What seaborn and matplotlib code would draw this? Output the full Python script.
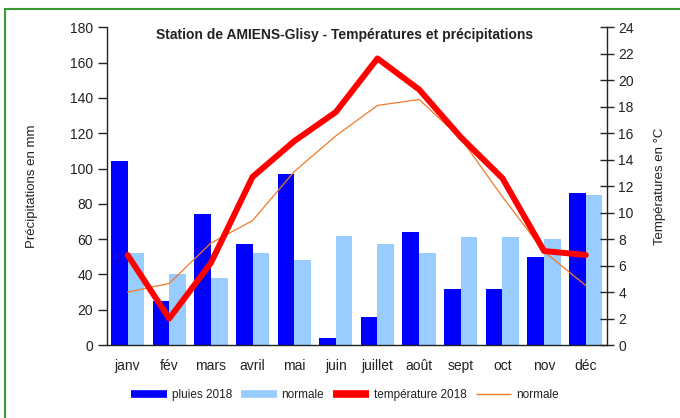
import numpy as np
import pandas as pd
import seaborn as sns
import matplotlib.pyplot as plt
from matplotlib.lines import Line2D
from matplotlib.patches import Rectangle

mois = ['janv', 'fév', 'mars', 'avril', 'mai', 'juin',
        'juillet', 'août', 'sept', 'oct', 'nov', 'déc']
pluies_2018 = [104, 25, 74, 57, 97, 4, 16, 64, 32, 32, 50, 86]
pluies_normale = [52, 40, 38, 52, 48, 62, 57.5, 52, 61, 61, 60, 85]
temp_2018 = [6.8, 2.0, 6.2, 12.7, 15.4, 17.6, 21.65, 19.3, 15.7, 12.6, 7.1, 6.8]
temp_normale = [4.0, 4.65, 7.7, 9.4, 13.1, 15.8, 18.1, 18.55, 15.6, 11.2, 7.05, 4.5]

df = pd.DataFrame({
    'mois': mois * 2,
    'mm': pluies_2018 + pluies_normale,
    'serie': ['pluies 2018'] * 12 + ['normale'] * 12,
})

sns.set_style('white')
plt.rcParams['font.family'] = ['Liberation Sans', 'DejaVu Sans']
txt = '#222222'

fig = plt.figure(figsize=(6.8, 4.18), dpi=100)
ax = fig.add_axes([0.157, 0.1746, 0.735, 0.760])

sns.barplot(data=df, x='mois', y='mm', hue='serie',
            palette=['#0000ff', '#99ccff'], saturation=1, width=0.8, gap=0,
            errorbar=None, legend=False, ax=ax, zorder=2)
for p in ax.patches:
    p.set_edgecolor('none')

ax.set_xlim(-0.5, 11.5)
ax.set_ylim(0, 180)
ax.set_yticks(range(0, 181, 20))
ax.set_xticks(range(12))
ax.set_xticklabels(mois)
ax.set_xticks(np.arange(-0.5, 12, 1), minor=True)
ax.tick_params(axis='x', which='major', length=0, pad=10, labelsize=10, labelcolor=txt)
ax.tick_params(axis='x', which='minor', length=7, width=1, direction='out', color='#222')
ax.tick_params(axis='y', length=6.5, width=1, direction='out', labelsize=10,
               labelcolor=txt, color='#222', left=True)
ax.set_xlabel('')
ax.set_ylabel('Précipitations en mm', fontsize=9.5, color=txt)
ax.yaxis.set_label_coords(-0.138, 0.5)
for s in ['top', 'right']:
    ax.spines[s].set_visible(False)
for s in ['left', 'bottom']:
    ax.spines[s].set_color('#222')
    ax.spines[s].set_linewidth(1)

ax2 = ax.twinx()
x = np.arange(12)
sns.lineplot(x=x, y=temp_normale, ax=ax2, color='#f07a28', lw=0.9)
sns.lineplot(x=x, y=temp_2018, ax=ax2, color='#ff0000', lw=4.3)
ax2.set_ylim(0, 24)
ax2.set_yticks(range(0, 25, 2))
ax2.set_xlim(-0.5, 11.5)
ax2.tick_params(axis='y', length=10, width=1, direction='inout', labelsize=10,
                labelcolor=txt, color='#222', right=True)
ax2.set_ylabel('Températures en °C', fontsize=9.5, color=txt)
ax2.yaxis.set_label_coords(1.095, 0.5)
for s in ['top', 'left', 'bottom']:
    ax2.spines[s].set_visible(False)
ax2.spines['right'].set_color('#222')
ax2.spines['right'].set_linewidth(1)

fig.text(345 / 680, 1 - 35 / 418, 'Station de AMIENS-Glisy - Températures et précipitations',
         ha='center', va='center', fontsize=10, fontweight='bold', color=txt)

handles = [
    Line2D([], [], color='#0000ff', lw=5.5, solid_capstyle='butt'),
    Line2D([], [], color='#99ccff', lw=5.5, solid_capstyle='butt'),
    Line2D([], [], color='#ff0000', lw=5.5, solid_capstyle='butt'),
    Line2D([], [], color='#f07a28', lw=1, solid_capstyle='butt'),
]
labels = ['pluies 2018', 'normale', 'température 2018', 'normale']
fig.legend(handles, labels, loc='center', bbox_to_anchor=(345 / 680, 1 - 395 / 418),
           ncol=4, frameon=False, fontsize=8.5, handlelength=3.0,
           handletextpad=0.4, columnspacing=0.8, labelcolor=txt)

fig.patches.append(Rectangle((5 / 680, -0.1), 1.1, 1 - 9 / 418 + 0.1,
                             transform=fig.transFigure, fill=False,
                             edgecolor='#3a9a3a', lw=1.5))

fig.savefig('out.png', dpi=100)
